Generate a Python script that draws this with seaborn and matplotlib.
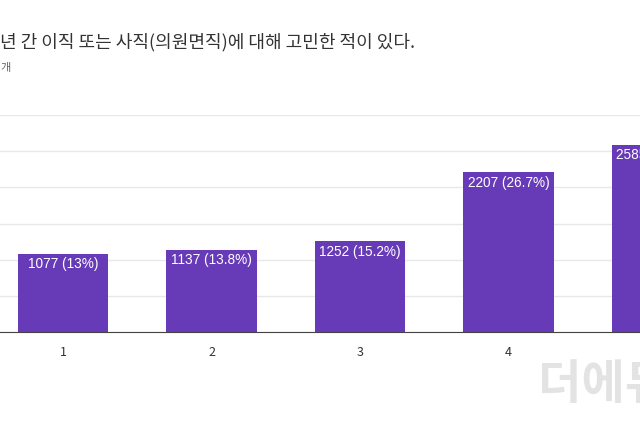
import matplotlib
matplotlib.use("Agg")
import matplotlib.pyplot as plt
import seaborn as sns
import pandas as pd

categories = ["1", "2", "3", "4", "5"]
counts = [1077, 1137, 1252, 2207, 2585]
labels = ["1077 (13%)", "1137 (13.8%)", "1252 (15.2%)", "2207 (26.7%)", "2585 (31.3%)"]

plt.rcParams["font.family"] = ["Noto Sans CJK JP", "Noto Sans CJK KR", "DejaVu Sans"]
df = pd.DataFrame({"cat": categories, "n": counts})

fig = plt.figure(figsize=(6.4, 4.26), dpi=100)
ax = fig.add_axes([0, (426 - 332) / 426, 1, 217 / 426])
sns.barplot(data=df, x="cat", y="n", color="#673ab7", saturation=1, width=0.61, ax=ax)
ax.set_xlim(-0.424, 3.885)
ax.set_ylim(0, 3000)
ax.set_yticks(range(0, 3001, 500))
ax.yaxis.grid(True, color="#e8e8e8", linewidth=1)
ax.set_axisbelow(True)
for s in ["top", "right", "left"]:
    ax.spines[s].set_visible(False)
ax.spines["bottom"].set_color("#444444")
ax.tick_params(axis="y", left=False, labelleft=False)
ax.tick_params(axis="x", length=0, pad=10, labelsize=9, labelcolor="#333333")
ax.set_xlabel("")
ax.set_ylabel("")
for i, (v, t) in enumerate(zip(counts, labels)):
    ax.text(i, v - 45, t, ha="center", va="top", color="white", fontsize=9.8,
            fontfamily="Liberation Sans")

fig.text(0.0, 1 - 42 / 426, "년 간 이직 또는 사직(의원면직)에 대해 고민한 적이 있다.",
         fontsize=13, color="#333333", va="center", ha="left")
fig.text(0.0, 1 - 68 / 426, "개", fontsize=8, color="#666666", va="center", ha="left")
fig.text(0.84, 1 - 385 / 426, "더에듀", fontsize=34, color="#dddddd", alpha=0.8,
         fontweight="bold", va="center", ha="left")
fig.savefig("out.png", dpi=100)
